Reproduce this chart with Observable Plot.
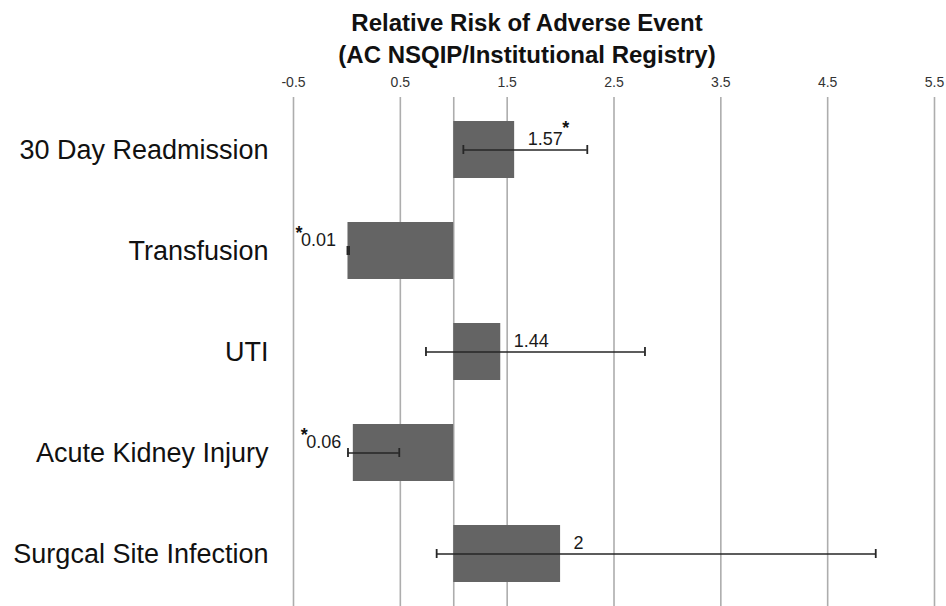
<!DOCTYPE html>
<html><head><meta charset="utf-8">
<script src="https://cdn.jsdelivr.net/npm/d3@7"></script>
<script src="https://cdn.jsdelivr.net/npm/@observablehq/plot@0.6"></script>
<style>
body{margin:0;background:#fff;font-family:"Liberation Sans",Arial,sans-serif;}
#title{box-sizing:border-box;width:946px;height:71px;padding:7px 0 0 108px;text-align:center;font:bold 24px/32px "Liberation Sans",Arial,sans-serif;color:#111;}
#chart svg{display:block;overflow:visible;}
</style></head><body>
<div id="title">Relative Risk of Adverse Event<br>(AC NSQIP/Institutional Registry)</div>
<div id="chart"></div>
<script>
const categories = ["30 Day Readmission", "Transfusion", "UTI", "Acute Kidney Injury", "Surgcal Site Infection"];
const values = [1.57, 0.01, 1.44, 0.06, 2];
const ciLow = [1.09, 0.005, 0.74, 0.01, 0.84];
const ciHigh = [2.25, 0.02, 2.79, 0.49, 4.95];
const valueLabels = ["1.57", "0.01", "1.44", "0.06", "2"];
const significant = [true, true, false, true, false];
const baseline = 1;
const tickValues = [-0.5, 0.5, 1.5, 2.5, 3.5, 4.5, 5.5];
const gridValues = [-0.5, 0.5, 1, 1.5, 2.5, 3.5, 4.5, 5.5];

const data = categories.map((c, i) => ({
  category: c, value: values[i], low: ciLow[i], high: ciHigh[i],
  label: valueLabels[i], sig: significant[i]
}));
const right = data.filter(d => d.value >= baseline);
const left = data.filter(d => d.value < baseline);

const chart = Plot.plot({
  width: 946, height: 535,
  marginTop: 26, marginBottom: 0, marginLeft: 293, marginRight: 12,
  style: {background: "#fff", fontFamily: "'Liberation Sans', Arial, sans-serif"},
  x: {domain: [-0.5, 5.5]},
  y: {domain: categories, paddingInner: 0.44, paddingOuter: 0.22},
  marks: [
    Plot.ruleX(gridValues, {stroke: "#adadad", strokeWidth: 1.6}),
    Plot.barX(data, {x1: d => baseline, x2: "value", y: "category", fill: "#646464"}),
    Plot.ruleY(data, {y: "category", x1: "low", x2: "high", stroke: "#262626", strokeWidth: 1.6}),
    Plot.tickX(data, {x: "low", y: "category", insetTop: 24, insetBottom: 24, stroke: "#262626", strokeWidth: 1.8}),
    Plot.tickX(data, {x: "high", y: "category", insetTop: 24, insetBottom: 24, stroke: "#262626", strokeWidth: 1.8}),
    Plot.text(right, {x: "value", y: "category", text: "label", textAnchor: "start", dx: 13, dy: -11, fontSize: 18, fill: "#1a1a1a"}),
    Plot.text(left, {x: "value", y: "category", text: "label", textAnchor: "end", dx: -12, dy: -11, fontSize: 18, fill: "#1a1a1a"}),
    Plot.text(right.filter(d => d.sig), {x: "value", y: "category", text: d => "*", dx: 51, dy: -22, fontSize: 18, fontWeight: "bold", fill: "#111"}),
    Plot.text(left.filter(d => d.sig), {x: "value", y: "category", text: d => "*", dx: -49, dy: -18, fontSize: 18, fontWeight: "bold", fill: "#111"}),
    Plot.axisX({anchor: "top", ticks: tickValues, tickSize: 0, tickPadding: 11, tickFormat: d => String(d), fontSize: 14, color: "#333", label: null}),
    Plot.axisY({anchor: "left", tickSize: 0, tickPadding: 25, fontSize: 27, color: "#111", label: null})
  ]
});
document.getElementById("chart").appendChild(chart);
</script>
</body></html>
